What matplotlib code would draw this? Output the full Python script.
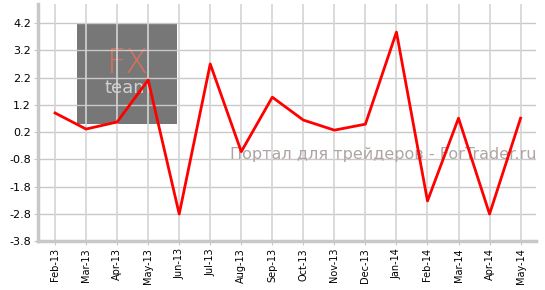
import matplotlib
matplotlib.use("Agg")
import matplotlib.pyplot as plt
from matplotlib.patches import Rectangle

# данные
months = ["Feb-13", "Mar-13", "Apr-13", "May-13", "Jun-13", "Jul-13", "Aug-13",
          "Sep-13", "Oct-13", "Nov-13", "Dec-13", "Jan-14", "Feb-14", "Mar-14",
          "Apr-14", "May-14"]
values = [0.9, 0.31, 0.57, 2.11, -2.81, 2.7, -0.52, 1.48, 0.64, 0.27, 0.49,
          3.87, -2.33, 0.71, -2.81, 0.71]
yticks = [-3.8, -2.8, -1.8, -0.8, 0.2, 1.2, 2.2, 3.2, 4.2]

fig = plt.figure(figsize=(5.45, 2.9), dpi=100)
ax = fig.add_axes([0.0697, 0.169, 0.914, 0.817])

x = list(range(len(months)))

# серый логотип (под сеткой)
ax.add_patch(Rectangle((0.078, 0.494), 0.201, 0.422, transform=ax.transAxes,
                       facecolor="#777777", edgecolor="none", zorder=0.5))
ax.text(0.18, 0.75, "FX", transform=ax.transAxes, ha="center", va="center",
        fontsize=24, color="#d8705c", fontweight="light", zorder=0.6)
ax.text(0.18, 0.645, "team", transform=ax.transAxes, ha="center", va="center",
        fontsize=13, color="#d0d0d0", zorder=0.6)

# сетка
for yt in yticks:
    ax.axhline(yt, color="#c8c8c8", linewidth=1, zorder=1)
for i in x:
    ax.axvline(i, color="#d4d4d4", linewidth=1.2, zorder=1)

ax.text(0.385, 0.365, "Портал для трейдеров - ForTrader.ru", transform=ax.transAxes,
        ha="left", va="center", fontsize=11.5, color="#b0a4a4", zorder=3)

ax.plot(x, values, color="#ff0000", linewidth=2, zorder=4)

ax.set_xlim(-0.55, 15.5)
ax.set_ylim(-3.8, 4.9)
ax.set_yticks(yticks)
ax.set_yticklabels([f"{v:.1f}" for v in yticks], fontsize=8)
ax.set_xticks(x)
ax.set_xticklabels(months, rotation=90, fontsize=7)

for s in ["top", "right"]:
    ax.spines[s].set_visible(False)
for s in ["left", "bottom"]:
    ax.spines[s].set_color("#c8c8c8")
    ax.spines[s].set_linewidth(2.5)
ax.tick_params(axis="both", length=3, color="#c8c8c8", pad=2)

fig.savefig("out.png", dpi=100)
